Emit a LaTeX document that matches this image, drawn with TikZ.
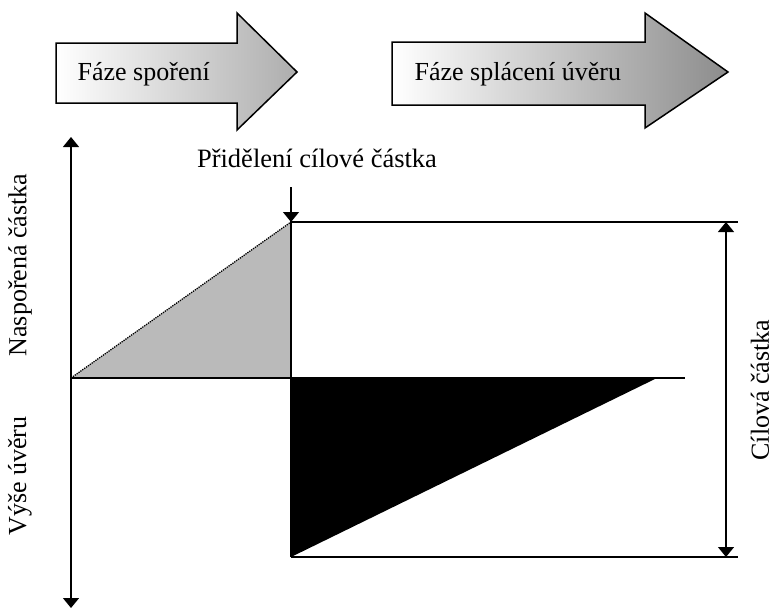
\documentclass[tikz,border=0pt]{standalone}
\usepackage{fontspec}
\setmainfont{Liberation Serif}
\usetikzlibrary{arrows.meta,calc}

\begin{document}
\begin{tikzpicture}[x=1pt,y=-1pt,line width=1.3pt,
	tip/.style={-{Triangle[length=10pt,width=16pt]}},
	phase/.style={draw=black,line width=1.5pt,line join=miter},
	lbl/.style={font=\fontsize{26}{30}\selectfont,inner sep=0pt}]
	\useasboundingbox (0,0) rectangle (776,608);
	
	%PHASE ARROWS
	\shade[phase,left color=white,right color=black!32]
		(56,43) -- (237,43) -- (237,13) -- (297,72) -- (237,130) -- (237,103) -- (56,103) -- cycle;
	\node[lbl,anchor=base west] (sporeni) at (77,80) {Fáze spoření};
	\shade[phase,left color=white,right color=black!45]
		(392,42) -- (645,42) -- (645,13) -- (728,72) -- (645,128) -- (645,105) -- (392,105) -- cycle;
	\node[lbl,anchor=base west] (splaceni) at (414,80) {Fáze splácení úvěru};
	
	%POINTS
	\coordinate (O) at (71,378);
	\coordinate (T) at (291,222);
	\coordinate (M) at (291,378);
	\coordinate (B) at (291,557);
	\coordinate (E) at (657,378);
	\coordinate (Xend) at (685,378);
	\coordinate (Ytop) at (71,137);
	\coordinate (Ybot) at (71,608);
	\coordinate (Tr) at (738,222);
	\coordinate (Br) at (738,557);
	\coordinate (Dt) at (726,222);
	\coordinate (Db) at (726,557);
	
	%TRIANGLES
	\fill[black!27] (O) -- (T) -- (M) -- cycle;
	\draw[line width=1.3pt,densely dotted] (O) -- (T);
	\fill[black] (M) -- (E) -- (B) -- cycle;
	
	%AXES
	\draw[tip] (O) -- (Ytop);
	\draw[tip] (O) -- (Ybot);
	\draw (O) -- (Xend);
	\draw (B) -- (T) -- (Tr);
	\draw (B) -- (Br);
	\draw[tip] ($(Dt)!0.5!(Db)$) -- (Dt);
	\draw[tip] (Dt) -- (Db);
	
	%LABELS
	\node[lbl,anchor=base,font=\fontsize{26.5}{30}\selectfont] (prideleni) at (317,167) {Přidělení cílové částka};
	\coordinate (Pa) at (291,187);
	\draw[tip] (Pa) -- (T);
	\node[lbl,rotate=90] (nasporena) at (20,265) {Naspořená částka};
	\node[lbl,rotate=90] (vyse) at (20,476) {Výše úvěru};
	\node[lbl,rotate=90] (cilova) at (760,390) {Cílová částka};
\end{tikzpicture}
\end{document}
